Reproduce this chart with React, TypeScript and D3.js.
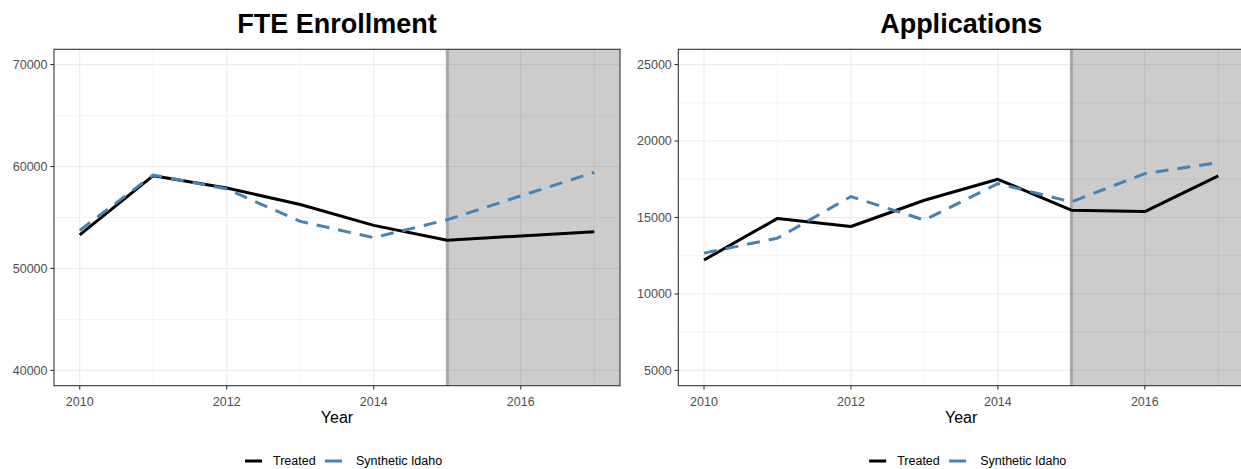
import React from "react";
import * as d3 from "d3";

const years = [2010, 2011, 2012, 2013, 2014, 2015, 2016, 2017];
const xTicks = [2010, 2012, 2014, 2016];
const xMinor = [2011, 2013, 2015, 2017];
const treatmentYear = 2015;

const fteTreated = [53300, 59100, 57900, 56270, 54230, 52760, 53190, 53610];
const fteSynthetic = [53740, 59170, 57800, 54620, 53020, 54780, 57120, 59430];
const fteTicks = [40000, 50000, 60000, 70000];
const fteMinor = [45000, 55000, 65000];

const appTreated = [12220, 14940, 14410, 16130, 17500, 15480, 15390, 17720];
const appSynthetic = [12670, 13650, 16370, 14830, 17220, 16020, 17870, 18590];
const appTicks = [5000, 10000, 15000, 20000, 25000];
const appMinor = [7500, 12500, 17500, 22500];

const seriesNames = ["Treated", "Synthetic Idaho"];
const seriesColors = ["#000000", "#4682b4"];

const FONT = "'Liberation Sans', Arial, Helvetica, sans-serif";
const TOP = 49.3;
const BOTTOM = 385.7;

type PanelProps = {
  title: string;
  left: number;
  right: number;
  yDomain: [number, number];
  yTicks: number[];
  yMinor: number[];
  treated: number[];
  synthetic: number[];
};

function Panel({ title, left, right, yDomain, yTicks, yMinor, treated, synthetic }: PanelProps) {
  const x = d3.scaleLinear().domain([2009.65, 2017.35]).range([left, right]);
  const y = d3.scaleLinear().domain(yDomain).range([BOTTOM, TOP]);
  const line = d3
    .line<number>()
    .x((_, i) => x(years[i]))
    .y((d) => y(d));
  const cx = (left + right) / 2;
  const legendX = cx - 92;
  const legendY = 461;
  const clipId = "clip-" + title.replace(/\s/g, "");
  return (
    <g>
      <defs>
        <clipPath id={clipId}>
          <rect x={left} y={TOP} width={right - left} height={BOTTOM - TOP} />
        </clipPath>
      </defs>
      <rect x={left} y={TOP} width={right - left} height={BOTTOM - TOP} fill="#ffffff" />
      {yMinor.map((v) => (
        <line key={"ym" + v} x1={left} x2={right} y1={y(v)} y2={y(v)} stroke="#ebebeb" strokeWidth={0.6} />
      ))}
      {xMinor.map((v) => (
        <line key={"xm" + v} x1={x(v)} x2={x(v)} y1={TOP} y2={BOTTOM} stroke="#ebebeb" strokeWidth={0.6} />
      ))}
      {yTicks.map((v) => (
        <line key={"yg" + v} x1={left} x2={right} y1={y(v)} y2={y(v)} stroke="#ebebeb" strokeWidth={1.1} />
      ))}
      {xTicks.map((v) => (
        <line key={"xg" + v} x1={x(v)} x2={x(v)} y1={TOP} y2={BOTTOM} stroke="#ebebeb" strokeWidth={1.1} />
      ))}
      <rect
        x={x(treatmentYear)}
        y={TOP}
        width={right - x(treatmentYear)}
        height={BOTTOM - TOP}
        fill="#000000"
        fillOpacity={0.2}
      />
      <line
        x1={x(treatmentYear)}
        x2={x(treatmentYear)}
        y1={TOP}
        y2={BOTTOM}
        stroke="#999999"
        strokeOpacity={0.8}
        strokeWidth={3}
      />
      <g clipPath={`url(#${clipId})`}>
        <path d={line(treated) || ""} fill="none" stroke={seriesColors[0]} strokeWidth={3} strokeLinejoin="round" />
        <path
          d={line(synthetic) || ""}
          fill="none"
          stroke={seriesColors[1]}
          strokeWidth={3}
          strokeDasharray="13,9"
        />
      </g>
      <rect x={left} y={TOP} width={right - left} height={BOTTOM - TOP} fill="none" stroke="#333333" strokeWidth={1.1} />
      {yTicks.map((v) => (
        <g key={"yt" + v}>
          <line x1={left - 3.7} x2={left} y1={y(v)} y2={y(v)} stroke="#333333" strokeWidth={1.1} />
          <text
            x={left - 6.5}
            y={y(v)}
            dy="0.35em"
            textAnchor="end"
            fontFamily={FONT}
            fontSize={12.5}
            fill="#4d4d4d"
          >
            {v}
          </text>
        </g>
      ))}
      {xTicks.map((v) => (
        <g key={"xt" + v}>
          <line x1={x(v)} x2={x(v)} y1={BOTTOM} y2={BOTTOM + 3.7} stroke="#333333" strokeWidth={1.1} />
          <text x={x(v)} y={406} textAnchor="middle" fontFamily={FONT} fontSize={12.5} fill="#4d4d4d">
            {v}
          </text>
        </g>
      ))}
      <text x={cx} y={423} textAnchor="middle" fontFamily={FONT} fontSize={16} fill="#000000">
        Year
      </text>
      <text x={cx} y={33} textAnchor="middle" fontFamily={FONT} fontSize={27} fontWeight="bold" fill="#000000">
        {title}
      </text>
      <g>
        <line x1={legendX} x2={legendX + 17} y1={legendY} y2={legendY} stroke={seriesColors[0]} strokeWidth={3} />
        <text x={legendX + 28} y={legendY} dy="0.35em" fontFamily={FONT} fontSize={12.5} fill="#000000">
          {seriesNames[0]}
        </text>
        <line x1={legendX + 80} x2={legendX + 97} y1={legendY} y2={legendY} stroke={seriesColors[1]} strokeWidth={3} />
        <text x={legendX + 111} y={legendY} dy="0.35em" fontFamily={FONT} fontSize={12.5} fill="#000000">
          {seriesNames[1]}
        </text>
      </g>
    </g>
  );
}

export default function App() {
  return (
    <svg
      width={1241}
      height={469}
      viewBox="0 0 1241 469"
      style={{ position: "absolute", left: 0, top: 0, background: "#ffffff" }}
    >
      <rect x={0} y={0} width={1241} height={469} fill="#ffffff" />
      <Panel
        title="FTE Enrollment"
        left={54}
        right={620}
        yDomain={[38500, 71500]}
        yTicks={fteTicks}
        yMinor={fteMinor}
        treated={fteTreated}
        synthetic={fteSynthetic}
      />
      <Panel
        title="Applications"
        left={678.3}
        right={1244}
        yDomain={[4000, 26000]}
        yTicks={appTicks}
        yMinor={appMinor}
        treated={appTreated}
        synthetic={appSynthetic}
      />
    </svg>
  );
}
